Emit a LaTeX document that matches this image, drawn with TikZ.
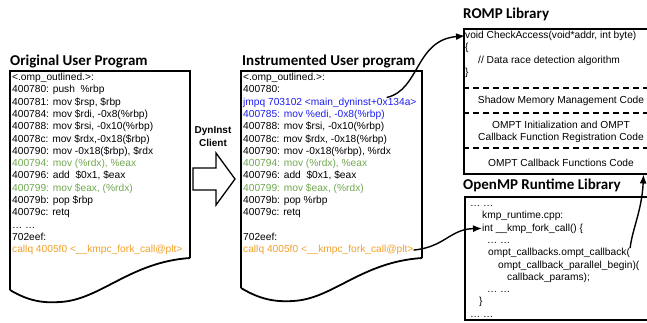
\documentclass[tikz,border=0pt]{standalone}
\usepackage{fontspec}
\setmainfont{Liberation Sans}
\newfontfamily\titlefont{Carlito}
\usetikzlibrary{arrows.meta}
\definecolor{codegreen}{RGB}{112,168,80}
\definecolor{codeblue}{RGB}{30,30,240}
\definecolor{codeorange}{RGB}{240,160,40}
\begin{document}
\begin{tikzpicture}[x=1pt,y=-1pt,
  code/.style={anchor=base west, inner sep=0pt, font=\fontsize{10.2}{12.3}\selectfont},
  title/.style={anchor=base west, inner sep=0pt, font=\titlefont\bfseries\fontsize{15}{18}\selectfont},
  doc/.style={line width=1.3pt},
  wave/.style={line width=1.8pt},
  libbox/.style={draw, line width=1.5pt, inner sep=0pt, anchor=north west},
  sep/.style={line width=1.5pt, dash pattern=on 6pt off 4pt},
  link/.style={line width=1.4pt, -{Latex[length=9pt,width=7pt]}},
]
\useasboundingbox (0,0) rectangle (647,322);

% ---------- Original user program ----------
\node[title] (otitle) at (10,65) {Original User Program};
\draw[doc] (190,258) -- (190,71) -- (10,71) -- (10,290);
\draw[wave] (10,290) .. controls (30,302) and (45,303) .. (60,302)
            .. controls (100,300) and (130,262) .. (190,258);
\foreach \txt [count=\i from 0] in {
  {<.omp\_outlined.>:},
  {400780: push~\ \%rbp},
  {400781: mov \$rsp, \$rbp},
  {400784: mov \$rdi, -0x8(\%rbp)},
  {400788: mov \$rsi, -0x10(\%rbp)},
  {40078c: mov \$rdx,-0x18(\$rbp)},
  {400790: mov -0x18(\$rbp), \$rdx},
  {\color{codegreen}400794: mov (\%rdx), \%eax},
  {400796: add~\ \$0x1, \$eax},
  {\color{codegreen}400799: mov \$eax, (\%rdx)},
  {40079b: pop \$rbp},
  {40079c: retq},
  {… …},
  {702eef:},
  {\color{codeorange}callq 4005f0 <\_\_kmpc\_fork\_call@plt>}}
  \node[code] (o\i) at ({12},{80.5+12.3*\i}) {\txt};

% ---------- DynInst client ----------
\node[inner sep=0pt, align=center, font=\bfseries\fontsize{10}{13}\selectfont] (dyn) at (213,137) {DynInst\\Client};
\draw[line width=1.3pt, line join=miter] (193,168) -- (216,168) -- (216,153) -- (235,179)
   -- (216,205) -- (216,190) -- (193,190) -- cycle;

% ---------- Instrumented user program ----------
\node[title] (ititle) at (242,65) {Instrumented User program};
\draw[doc] (422,258) -- (422,71) -- (241,71) -- (241,288);
\draw[wave] (241,288) .. controls (261,300) and (276,302) .. (293,301)
            .. controls (333,299) and (361,262) .. (422,258);
\foreach \txt [count=\i from 0] in {
  {<.omp\_outlined.>:},
  {400780:},
  {\color{codeblue}jmpq 703102 <main\_dyninst+0x134a>},
  {\color{codeblue}400785: mov \%edi, -0x8(\%rbp)},
  {400788: mov \$rsi, -0x10(\%rbp)},
  {40078c: mov \$rdx, -0x18(\%rbp)},
  {400790: mov -0x18(\%rbp), \%rdx},
  {\color{codegreen}400794: mov (\%rdx), \%eax},
  {400796: add~\ \$0x1, \$eax},
  {\color{codegreen}400799: mov \$eax, (\%rdx)},
  {40079b: pop \%rbp},
  {40079c: retq},
  {},
  {702eef:},
  {\color{codeorange}callq 4005f0 <\_\_kmpc\_fork\_call@plt>}}
  \node[code] (i\i) at ({243},{80.5+12.3*\i}) {\txt};

% ---------- ROMP library ----------
\node[title] (rtitle) at (463,18.5) {ROMP Library};
\node[libbox, minimum width=185pt, minimum height=145pt] (romp) at (463,28) {};
\draw[sep] (463,88) -- (648,88);
\draw[sep] (463,113) -- (648,113);
\draw[sep] (463,148) -- (648,148);
\node[code] (void) at (465,38.5) {void CheckAccess(void*addr, int byte)};
\node[code] (bra) at (465,50.8) {\{};
\node[code] (drd) at (478,63.1) {// Data race detection algorithm};
\node[code] (ket) at (465,75.4) {\}};
\node[code, anchor=base] (shadow) at (561,103.5) {Shadow Memory Management Code};
\node[code, anchor=base] (initA) at (561,128.5) {OMPT Initialization and OMPT};
\node[code, anchor=base] (initB) at (561,140.8) {Callback Function Registration Code};
\node[code, anchor=base] (cbf) at (561,166.5) {OMPT Callback Functions Code};

% ---------- OpenMP runtime library ----------
\node[title] (mtitle) at (463,189) {OpenMP Runtime Library};
\node[libbox, minimum width=184pt, minimum height=123pt] (omp) at (464,196) {};
\node[code] (k0) at (470,206.5) {… …};
\node[code] (k1) at (482,218.8) {kmp\_runtime.cpp:};
\node[code] (k2) at (482,231.1) {int \_\_kmp\_fork\_call() \{};
\node[code] (k3) at (487,243.4) {… …};
\node[code] (k4) at (488,255.7) {ompt\_callbacks.ompt\_callback(};
\node[code] (k5) at (498,268.0) {ompt\_callback\_parallel\_begin)(};
\node[code] (k6) at (507,280.3) {callback\_params);};
\node[code] (k7) at (487,292.6) {… …};
\node[code] (k8) at (479,304.9) {\}};
\node[code] (k9) at (470,317.2) {… …};

% ---------- connectors ----------
\draw[link] ([xshift=-30pt]i2.north east) .. controls (420,90) and (415,40) .. (void.west);
\draw[link] (i14.east) .. controls (445,247) and (450,229) .. (k2.west);
\draw[link] (k4.north east) .. controls (632,230) and (642,210) .. ([xshift=-6pt]romp.south east);
\end{tikzpicture}
\end{document}
